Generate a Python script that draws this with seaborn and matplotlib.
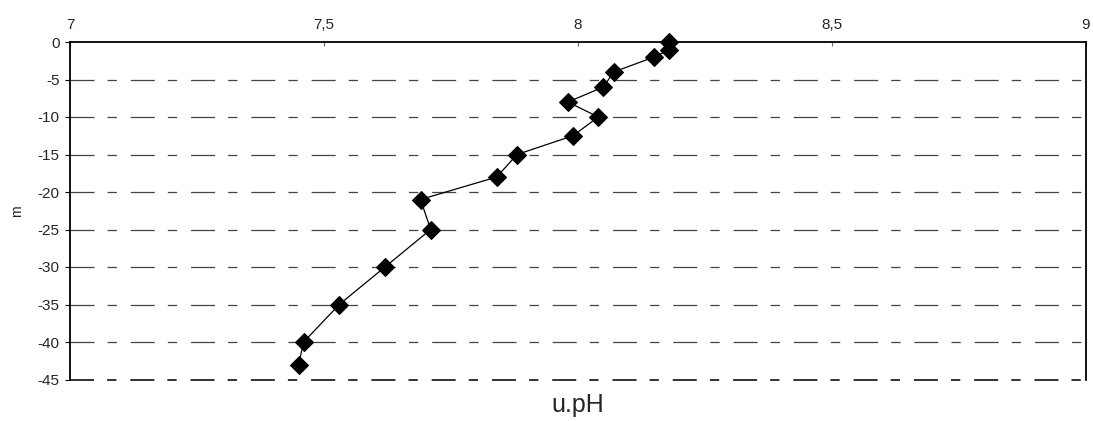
import matplotlib
matplotlib.use("Agg")
import matplotlib.pyplot as plt
from matplotlib.ticker import FuncFormatter
import seaborn as sns
import pandas as pd

# pH profile with depth
ph_values = [8.18, 8.18, 8.15, 8.07, 8.05, 7.98, 8.04, 7.99, 7.88, 7.84,
             7.69, 7.71, 7.62, 7.53, 7.46, 7.45]
depth_m = [0, -1, -2, -4, -6, -8, -10, -12.5, -15, -18,
           -21, -25, -30, -35, -40, -43]
x_ticks = [7, 7.5, 8, 8.5, 9]
y_ticks = [0, -5, -10, -15, -20, -25, -30, -35, -40, -45]

df = pd.DataFrame({"pH": ph_values, "depth": depth_m})

sns.set_style("white")
plt.rcParams["font.family"] = ["Liberation Sans", "DejaVu Sans"]
plt.rcParams["lines.scale_dashes"] = False
plt.rcParams["axes.unicode_minus"] = False

fig = plt.figure(figsize=(10.93, 4.21), dpi=100)
ax = fig.add_axes([70 / 1093, 1 - 379.5 / 421, (1086 - 70) / 1093, (379.5 - 42) / 421])

sns.lineplot(data=df, x="pH", y="depth", sort=False, estimator=None,
             color="black", linewidth=0.9, marker="D", markersize=8.7,
             markeredgecolor="black", markerfacecolor="black", ax=ax,
             zorder=5, clip_on=False)

ax.set_xlim(7, 9)
ax.set_ylim(-45, 0)
ax.set_xticks(x_ticks)
ax.set_yticks(y_ticks)
ax.xaxis.tick_top()
ax.xaxis.set_major_formatter(FuncFormatter(lambda v, p: f"{v:g}".replace(".", ",")))
ax.grid(False)

# long-short dashed horizontal rules at each depth tick
dash = (0, (17.3, 9.4, 6.7, 10.0))
for yv in y_ticks[1:]:
    bottom = yv == y_ticks[-1]
    ax.axhline(yv, color="#333333" if bottom else "#444444",
               linewidth=1.4 if bottom else 0.9, linestyle=dash,
               clip_on=False, zorder=2)

for side in ("top", "left", "right"):
    ax.spines[side].set_visible(True)
    ax.spines[side].set_color("black")
    ax.spines[side].set_linewidth(1.3)
ax.spines["bottom"].set_visible(False)

ax.tick_params(axis="y", direction="out", length=3.6, width=0.8, color="black",
               labelsize=11, pad=4, left=True)
ax.tick_params(axis="x", direction="in", length=3, width=0.8, color="#666666",
               labelsize=11, pad=7, top=True, bottom=False)

ax.set_ylabel("m", fontsize=10, labelpad=10)
ax.set_xlabel("")
fig.text((70 + 1086) / 2 / 1093, 1 - 405 / 421, "u.pH", ha="center", va="center",
         fontsize=18)

fig.savefig("out.png", dpi=100, facecolor="white")
